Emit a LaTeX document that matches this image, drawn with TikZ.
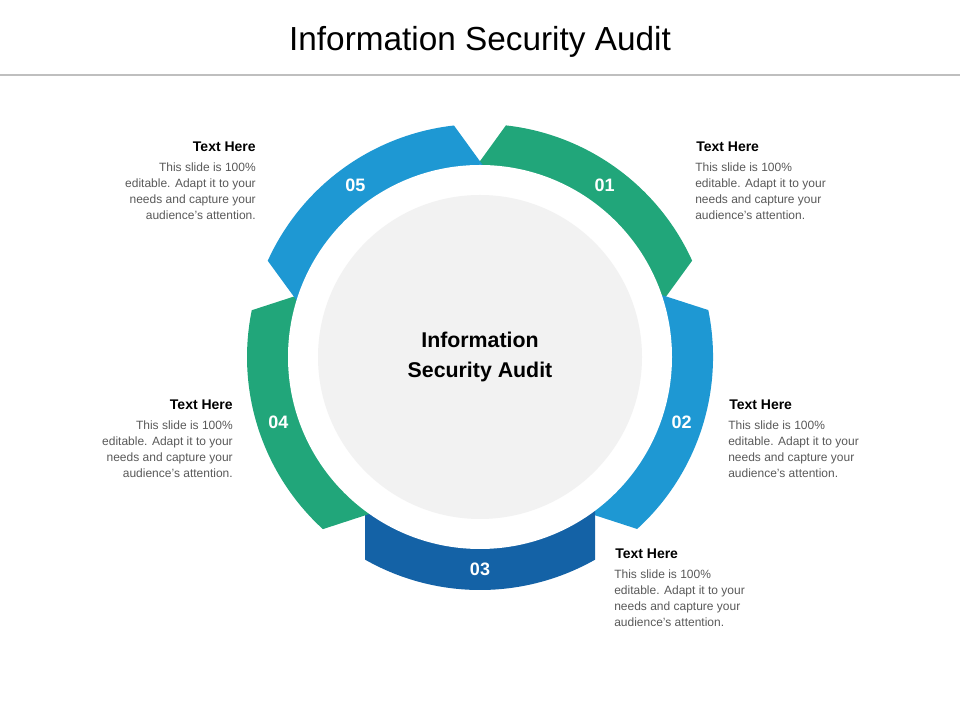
\documentclass[tikz,border=0pt]{standalone}
\usepackage{fontspec}
\setmainfont{Liberation Sans}
\usetikzlibrary{calc}
\definecolor{cgreen}{HTML}{21A67A}
\definecolor{cblue}{HTML}{1E98D3}
\definecolor{cdark}{HTML}{1462A6}
\definecolor{cgray}{HTML}{F2F2F2}
\definecolor{ctext}{HTML}{595959}
\begin{document}
\begin{tikzpicture}[x=0.75pt,y=0.75pt,
  num/.style={text=white,font=\fontsize{13.5}{16}\selectfont\bfseries},
  head/.style={font=\fontsize{10.5}{12}\selectfont\bfseries,inner sep=0},
  body/.style={font=\fontsize{9}{12}\selectfont,text=ctext,inner sep=0}]
\useasboundingbox (0,0) rectangle (960,720);
\node[font=\fontsize{25}{30}\selectfont] (title) at (480,678) {Information Security Audit};
\draw[line width=1.5pt,color=black!25] (0,645) -- (960,645);
\coordinate (c) at (480,363);
\foreach \a/\col in {54/cgreen,-18/cblue,-90/cdark,198/cgreen,126/cblue}{
  \begin{scope}[shift={(c)},rotate=\a-90]
  \fill[\col] (115,202.6) arc (60.4:119.6:233) -- (-115,100) -- (115,100) -- cycle;
  \end{scope}}
\fill[white] (c) circle (192);
\fill[cgray] (c) circle (162);
\node[font=\fontsize{16}{22}\selectfont\bfseries,align=center] (center) at (c) {Information\\Security Audit};
\foreach \a/\t in {54/01,-18/02,-90/03,198/04,126/05}{
  \node[num] (n\t) at ($(c)+(\a:212)$) {\t};}
% texts
\node[head,anchor=west] (h1) at (696,573) {Text Here};
\node[body,anchor=north west,align=left] (b1) at (695,557) {This slide is 100\%\\editable. Adapt it to your\\needs and capture your\\audience's attention.};
\node[head,anchor=east] (h5) at (256,573) {Text Here};
\node[body,anchor=north east,align=right] (b5) at (256,557) {This slide is 100\%\\editable. Adapt it to your\\needs and capture your\\audience's attention.};
\node[head,anchor=west] (h2) at (729,315) {Text Here};
\node[body,anchor=north west,align=left] (b2) at (728,299) {This slide is 100\%\\editable. Adapt it to your\\needs and capture your\\audience's attention.};
\node[head,anchor=east] (h4) at (233,315) {Text Here};
\node[body,anchor=north east,align=right] (b4) at (233,299) {This slide is 100\%\\editable. Adapt it to your\\needs and capture your\\audience's attention.};
\node[head,anchor=west] (h3) at (615,166) {Text Here};
\node[body,anchor=north west,align=left] (b3) at (614,150) {This slide is 100\%\\editable. Adapt it to your\\needs and capture your\\audience's attention.};
\end{tikzpicture}
\end{document}
